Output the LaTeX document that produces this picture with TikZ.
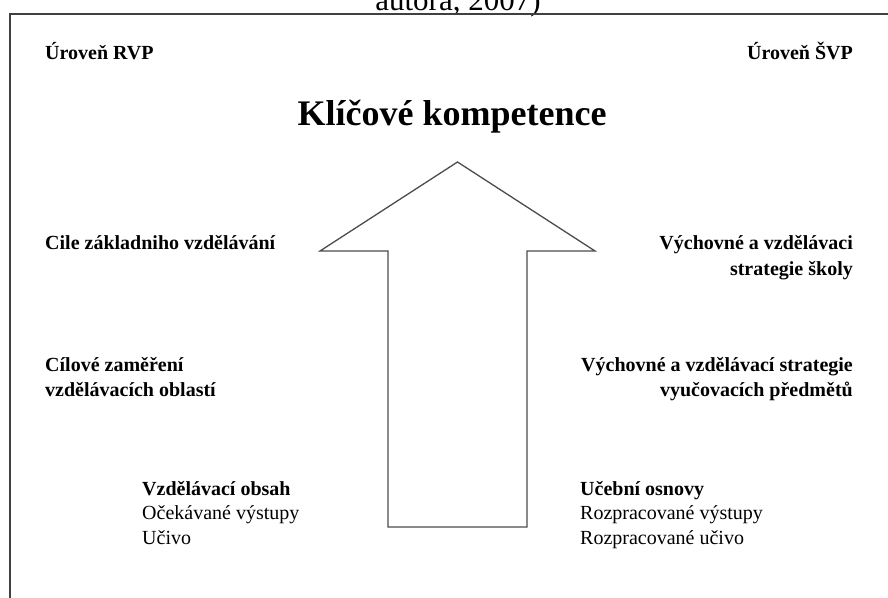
\documentclass[tikz,border=0pt]{standalone}
\usepackage{fontspec}
\setmainfont{Liberation Serif}
\begin{document}
\begin{tikzpicture}[x=1pt,y=-1pt,
  bl/.style={font=\fontsize{20}{25}\selectfont\bfseries, inner sep=0pt},
  rl/.style={font=\fontsize{20}{25}\selectfont, inner sep=0pt},
  frameline/.style={draw=black!75, line width=1.6pt},
  arrowline/.style={draw=black!70, line width=1.3pt, line join=miter}]
\clip (0,0) rectangle (888,597);
\fill[white] (0,0) rectangle (888,597);
% cut-off caption line above the frame
\node[rl, font=\fontsize{31}{36}\selectfont, anchor=base] (cap) at (458,10) {autora, 2007)};
% frame
\coordinate (ftl) at (10,14);
\coordinate (ftr) at (890,14);
\coordinate (fbl) at (10,600);
\draw[frameline] (ftr) -- (ftl) -- (fbl);
% headings
\node[bl, anchor=base west] (rvp) at (45,59) {Úroveň RVP};
\node[bl, anchor=base east] (svp) at (853,59) {Úroveň ŠVP};
\node[bl, font=\fontsize{36}{42}\selectfont\bfseries, anchor=base] (kk) at (452,125) {Klíčové kompetence};
% arrow
\coordinate (tip) at (457.5,162);
\coordinate (hl) at (320,251);
\coordinate (hr) at (595,251);
\coordinate (sl) at (388,251);
\coordinate (sr) at (527,251);
\coordinate (bl) at (388,527);
\coordinate (br) at (527,527);
\draw[arrowline] (tip) -- (hr) -- (sr) -- (br) -- (bl) -- (sl) -- (hl) -- cycle;
% left column
\node[bl, anchor=base west] (l1) at (45,249) {Cile základniho vzdělávání};
\node[bl, anchor=base west] (l2a) at (45,371) {Cílové zaměření};
\node[bl, anchor=base west] (l2b) at (45,396) {vzdělávacích oblastí};
\node[bl, anchor=base west] (l3a) at (142,495) {Vzdělávací obsah};
\node[rl, anchor=base west] (l3b) at (142,519) {Očekávané výstupy};
\node[rl, anchor=base west] (l3c) at (142,544) {Učivo};
% right column
\node[bl, anchor=base east] (r1a) at (853,249) {Výchovné a vzdělávaci};
\node[bl, anchor=base east] (r1b) at (853,275) {strategie školy};
\node[bl, anchor=base east] (r2a) at (853,371) {Výchovné a vzdělávací strategie};
\node[bl, anchor=base east] (r2b) at (853,396) {vyučovacích předmětů};
\node[bl, anchor=base west] (r3a) at (580,495) {Učební osnovy};
\node[rl, anchor=base west] (r3b) at (580,519) {Rozpracované výstupy};
\node[rl, anchor=base west] (r3c) at (580,544) {Rozpracované učivo};
\end{tikzpicture}
\end{document}
